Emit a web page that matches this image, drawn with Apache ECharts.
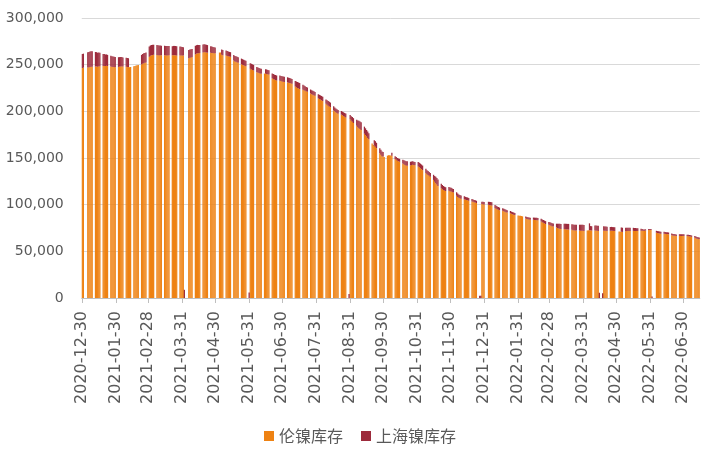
<!DOCTYPE html>
<html><head><meta charset="utf-8">
<script src="https://cdn.jsdelivr.net/npm/echarts@6/dist/echarts.min.js"></script>
<style>html,body{margin:0;padding:0;background:#fff}#c{width:709px;height:452px}</style>
</head><body><div id="c"></div>
<script>
// Series names
const seriesNames = ['伦镍库存', '上海镍库存'];
// Calendar: first / last day on the axis; weeks start Monday 2020-12-28
const firstDay = '2020-12-30';
const lastDay = '2022-07-15';
const firstMonday = '2020-12-28';
// x tick labels
const tickLabels = ['2020-12-30','2021-01-30','2021-02-28','2021-03-31','2021-04-30','2021-05-31','2021-06-30','2021-07-31','2021-08-31','2021-09-30','2021-10-31','2021-11-30','2021-12-31','2022-01-31','2022-02-28','2022-03-31','2022-04-30','2022-05-31','2022-06-30'];
// y ticks
const yTicks = [0, 50000, 100000, 150000, 200000, 250000, 300000];

// LME nickel stock, one row per week (Mon..Fri), null = no report
const lmeStock = [
[null,null,246400,246800,null],
[247000,247300,247600,247800,247900],
[248000,248100,247900,248200,248300],
[248500,248700,248600,248800,248500],
[248000,247700,247500,247400,247300],
[247600,247900,248100,248200,248000],
[247800,247600,247400,247300,247500],
[248200,248600,249000,249300,249600],
[250200,251000,251600,252000,252400],
[258500,259500,260000,260300,260500],
[260400,260200,260000,260100,260000],
[260100,260000,259900,260000,260100],
[260000,260200,260100,260000,259800],
[259900,260000,259800,259700,null],
[null,257000,257500,257800,258200],
[261000,261800,262200,262300,262400],
[263000,263500,263300,263000,262800],
[262800,262600,262400,262300,262200],
[null,263000,263000,260500,260000],
[259800,259400,259000,258700,258400],
[254500,253500,253000,252500,252000],
[250500,249800,249300,248800,248300],
[null,245500,244800,244300,243800],
[242000,241500,241000,240600,240300],
[240500,240300,240000,239800,239500],
[235500,234700,234000,233500,233000],
[232800,232400,232000,231700,231400],
[231000,230700,230400,230000,229500],
[226500,225800,225000,224500,224000],
[223000,222500,222000,221500,221000],
[219000,218300,217800,217200,216600],
[214000,213200,212500,211800,211000],
[208000,207000,206000,205200,204500],
[201000,200000,199000,198200,197500],
[196500,195800,195000,194300,193500],
[null,191500,190000,188800,187500],
[184500,183000,182000,181000,180000],
[176000,174500,173000,171500,170000],
[165500,164000,163000,162000,160500],
[155000,153500,152000,151500,151000],
[152500,153000,153000,152800,152500],
[149000,148000,147000,146500,146000],
[144000,143200,142500,142000,141800],
[142000,142500,142800,142600,142300],
[141000,140000,139000,138000,137000],
[134000,132500,131800,131000,130000],
[126500,124500,123000,121500,120000],
[117500,116500,115700,115000,114600],
[114800,114500,114000,113500,113000],
[109500,108300,107500,106900,106300],
[105800,105300,105000,104700,104300],
[103500,103000,102500,102200,101800],
[null,null,100800,100500,100300],
[null,99900,99600,99400,99100],
[96500,95700,95000,94500,94000],
[93500,93000,92500,92000,91500],
[90800,90200,89700,89300,88900],
[88500,88200,88000,87800,87500],
[85200,84700,84300,84000,83800],
[83800,83600,83500,83400,83200],
[82000,81200,80500,79900,79300],
[78500,78000,77500,77000,76500],
[75600,75000,74500,74200,73900],
[73800,73600,73500,73400,73300],
[73000,72700,72500,72400,72300],
[72200,72100,72000,72000,71900],
[72400,72500,72600,72500,72400],
[72300,72200,72000,71900,null],
[null,72100,72000,72000,71900],
[72000,72100,72000,71900,71800],
[null,71200,71000,70900,70800],
[71500,71700,71800,71900,71800],
[71900,71800,71800,71700,71700],
[72000,72100,72000,72100,72200],
[72800,72900,72900,null,null],
[70000,69600,69300,69000,68800],
[68800,68600,68500,68400,68300],
[67300,67000,66800,66600,66500],
[66600,66500,66500,66400,66400],
[66300,66200,66000,65800,65600],
[64500,64000,63600,63300,63000]
];

// SHFE nickel stock, one row per week (Mon..Fri), null = no report
const shfeStock = [
[null,null,15100,15000,null],
[16300,16400,16500,16600,16500],
[15600,15300,15000,14800,14600],
[13000,12700,12400,12200,12000],
[11600,11400,11200,11000,10900],
[10400,10200,10000,9900,9800],
[9700,9600,9500,null,null],
[null,null,null,null,null],
[10300,10400,10500,10600,10600],
[10900,11000,11100,11000,10900],
[10700,10600,10500,10400,10300],
[10200,10100,10000,9900,9800],
[9800,9900,10000,10000,9900],
[9500,9300,9100,9000,8800],
[null,8800,8700,8600,8500],
[9200,9100,9000,8900,8800],
[8600,8500,8400,8300,8200],
[7000,6800,6600,6400,6200],
[null,null,null,5800,5600],
[5300,5200,5100,5000,5000],
[5800,5900,6000,6100,6000],
[6000,6100,6100,6000,6000],
[5900,6000,6100,6100,6000],
[5600,5500,5400,5300,5200],
[null,4800,4700,4600,4500],
[5000,5200,5300,5400,5400],
[5500,5500,5500,5600,5600],
[5500,5400,5300,5200,5200],
[6000,6200,6400,6400,6300],
[5600,5200,4800,4600,4500],
[4400,4300,4200,4200,4100],
[4400,4500,4600,4600,4700],
[4800,4900,5000,5000,4900],
[4400,4200,4000,3900,3800],
[3800,3900,4000,4000,4100],
[4200,4500,4800,5000,5200],
[6500,7200,7800,8000,8200],
[7600,7300,7000,6800,6600],
[null,null,6000,6000,5800],
[5500,5300,5000,4800,null],
[null,null,null,null,3200],
[3000,3100,3000,3000,3100],
[4000,4300,4500,4600,4600],
[4000,3800,3600,3500,3400],
[4600,4800,5000,5000,4900],
[4500,4300,4200,4100,4000],
[5500,6300,7000,7200,7000],
[5000,4600,4300,4200,4000],
[4000,4000,4000,3900,3900],
[3700,3600,3500,3400,3400],
[3200,3100,3000,3000,2900],
[2700,2600,2500,2500,2400],
[2500,2400,2400,2500,2500],
[null,3200,3400,3500,3600],
[3200,3100,3000,3000,2900],
[2700,2600,2500,2500,2400],
[2400,2300,2300,2300,2200],
[null,null,null,null,null],
[2200,2200,2200,2300,2300],
[2400,2500,2500,2500,2600],
[2800,2900,3000,3100,3100],
[3000,3100,3000,3000,3200],
[4000,4500,5000,5300,5500],
[5800,5900,6000,6000,6100],
[6000,6000,6000,6100,6100],
[6300,6400,6500,6500,6400],
[null,null,7400,4600,4500],
[5400,5500,5500,5600,5600],
[5200,4800,4600,4500,4400],
[4200,4100,4000,4000,3900],
[null,null,null,4600,4500],
[3700,3600,3500,3500,3400],
[3300,3200,3200,3100,3100],
[2200,1800,1500,1400,1400],
[1200,1100,1000,1500,null],
[2000,2100,2200,2200,2300],
[2100,2000,2000,2000,1900],
[1800,1700,1700,1700,1600],
[1700,1800,1800,1800,1900],
[1600,1500,1500,1500,1400],
[1800,1800,1700,1700,1700]
];

// ---- build daily category axis ----
const DAY = 86400000;
function parse(s){const p=s.split('-');return Date.UTC(+p[0],+p[1]-1,+p[2]);}
function fmt(t){const d=new Date(t);const m=d.getUTCMonth()+1,dd=d.getUTCDate();return d.getUTCFullYear()+'-'+(m<10?'0':'')+m+'-'+(dd<10?'0':'')+dd;}
const cats=[], lmeData=[], shfeData=[];
const t0=parse(firstMonday);
for(let t=parse(firstDay); t<=parse(lastDay); t+=DAY){
  cats.push(fmt(t));
  const diff=Math.round((t-t0)/DAY), w=Math.floor(diff/7), dow=diff%7;
  if(dow<5 && lmeStock[w]){ lmeData.push(lmeStock[w][dow]); shfeData.push(shfeStock[w][dow]); }
  else { lmeData.push(null); shfeData.push(null); }
}
const tickSet=new Set(tickLabels);
const showTick=(i,v)=>tickSet.has(v);

const chart=echarts.init(document.getElementById('c'),null,{renderer:'canvas'});
chart.setOption({
  animation:false,
  backgroundColor:'#ffffff',
  grid:{left:81.75,right:9.2,top:18,bottom:154,containLabel:false},
  legend:{
    data:seriesNames, left:264, top:428, padding:0, itemGap:18,
    icon:'rect', itemWidth:10, itemHeight:10,
    textStyle:{fontSize:16,color:'#595959',fontFamily:'Noto Sans CJK SC'}
  },
  xAxis:{
    type:'category', data:cats, boundaryGap:true,
    axisLine:{lineStyle:{color:'#bfbfbf',width:1}},
    axisTick:{show:true,interval:showTick,alignWithLabel:true,length:5,lineStyle:{color:'#bfbfbf'}},
    axisLabel:{interval:showTick,rotate:90,margin:13,fontSize:16,color:'#595959',fontFamily:'DejaVu Sans'},
    splitLine:{show:false}
  },
  yAxis:{
    type:'value', min:yTicks[0], max:yTicks[yTicks.length-1], interval:yTicks[1]-yTicks[0],
    axisLine:{show:false}, axisTick:{show:false},
    axisLabel:{margin:18,fontSize:14,color:'#595959',fontFamily:'DejaVu Sans',
      formatter:v=>v.toLocaleString('en-US')},
    splitLine:{lineStyle:{color:'#d9d9d9',width:1}}
  },
  series:[
    {name:seriesNames[0],type:'bar',stack:'s',data:lmeData,barWidth:'115%',
     itemStyle:{color:'#EE8213'}},
    {name:seriesNames[1],type:'bar',stack:'s',data:shfeData,barWidth:'115%',
     itemStyle:{color:'#9D2B3C'}}
  ]
});
</script></body></html>
